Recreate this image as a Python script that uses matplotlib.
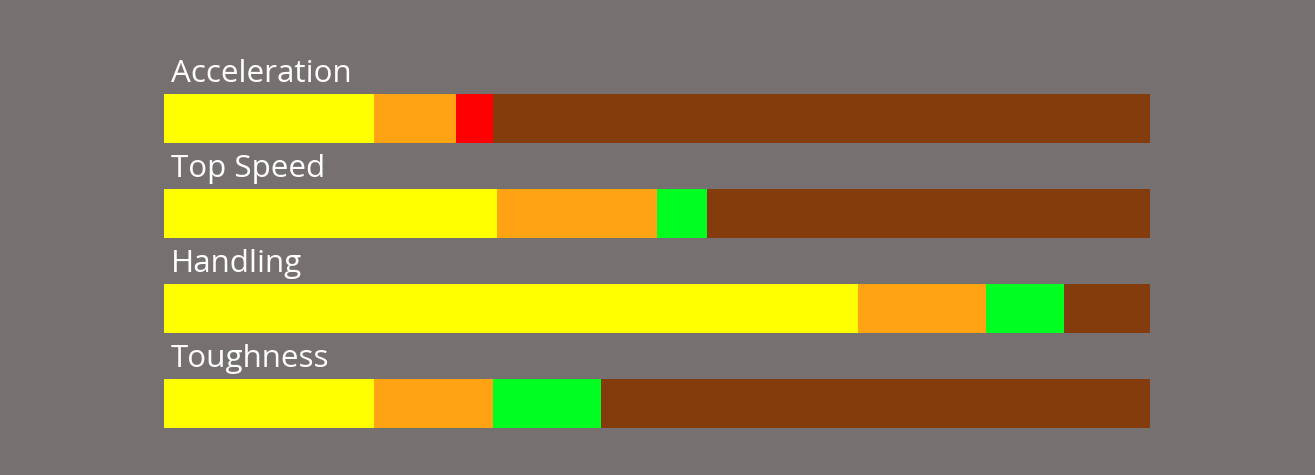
import numpy as np
import matplotlib.pyplot as plt

# stat names and segment lengths (percent of full bar)
stats = ['Acceleration', 'Top Speed', 'Handling', 'Toughness']
base = [21.3, 33.8, 70.4, 21.3]
upgrade = [8.3, 16.2, 13.0, 12.1]
delta = [3.8, 5.1, 7.9, 10.9]
delta_colors = ['#FF0000', '#00FF21', '#00FF21', '#00FF21']
full = 100

bg = '#767170'
fig = plt.figure(figsize=(13.15, 4.75), dpi=100, facecolor=bg)
ax = fig.add_axes([164 / 1315, 0, 986 / 1315, 1])
ax.set_facecolor(bg)

y = np.arange(len(stats))
h = 0.51
base = np.array(base)
upgrade = np.array(upgrade)
delta = np.array(delta)

ax.barh(y, base, height=h, color='#FFFF00', linewidth=0)
ax.barh(y, upgrade, left=base, height=h, color='#FFA313', linewidth=0)
ax.barh(y, delta, left=base + upgrade, height=h, color=delta_colors, linewidth=0)
rest = full - (base + upgrade + delta)
ax.barh(y, rest, left=base + upgrade + delta, height=h, color='#843C0C', linewidth=0)

for i, name in enumerate(stats):
    ax.annotate(name, xy=(0, i - h / 2), xytext=(4.8, 8.6), textcoords='offset points',
                ha='left', va='baseline', color='white', fontsize=22.6,
                family='Open Sans')

ax.set_xlim(0, full)
ax.set_ylim(3.753, -1.247)
ax.axis('off')

fig.savefig('out.png', dpi=100, facecolor=bg)
